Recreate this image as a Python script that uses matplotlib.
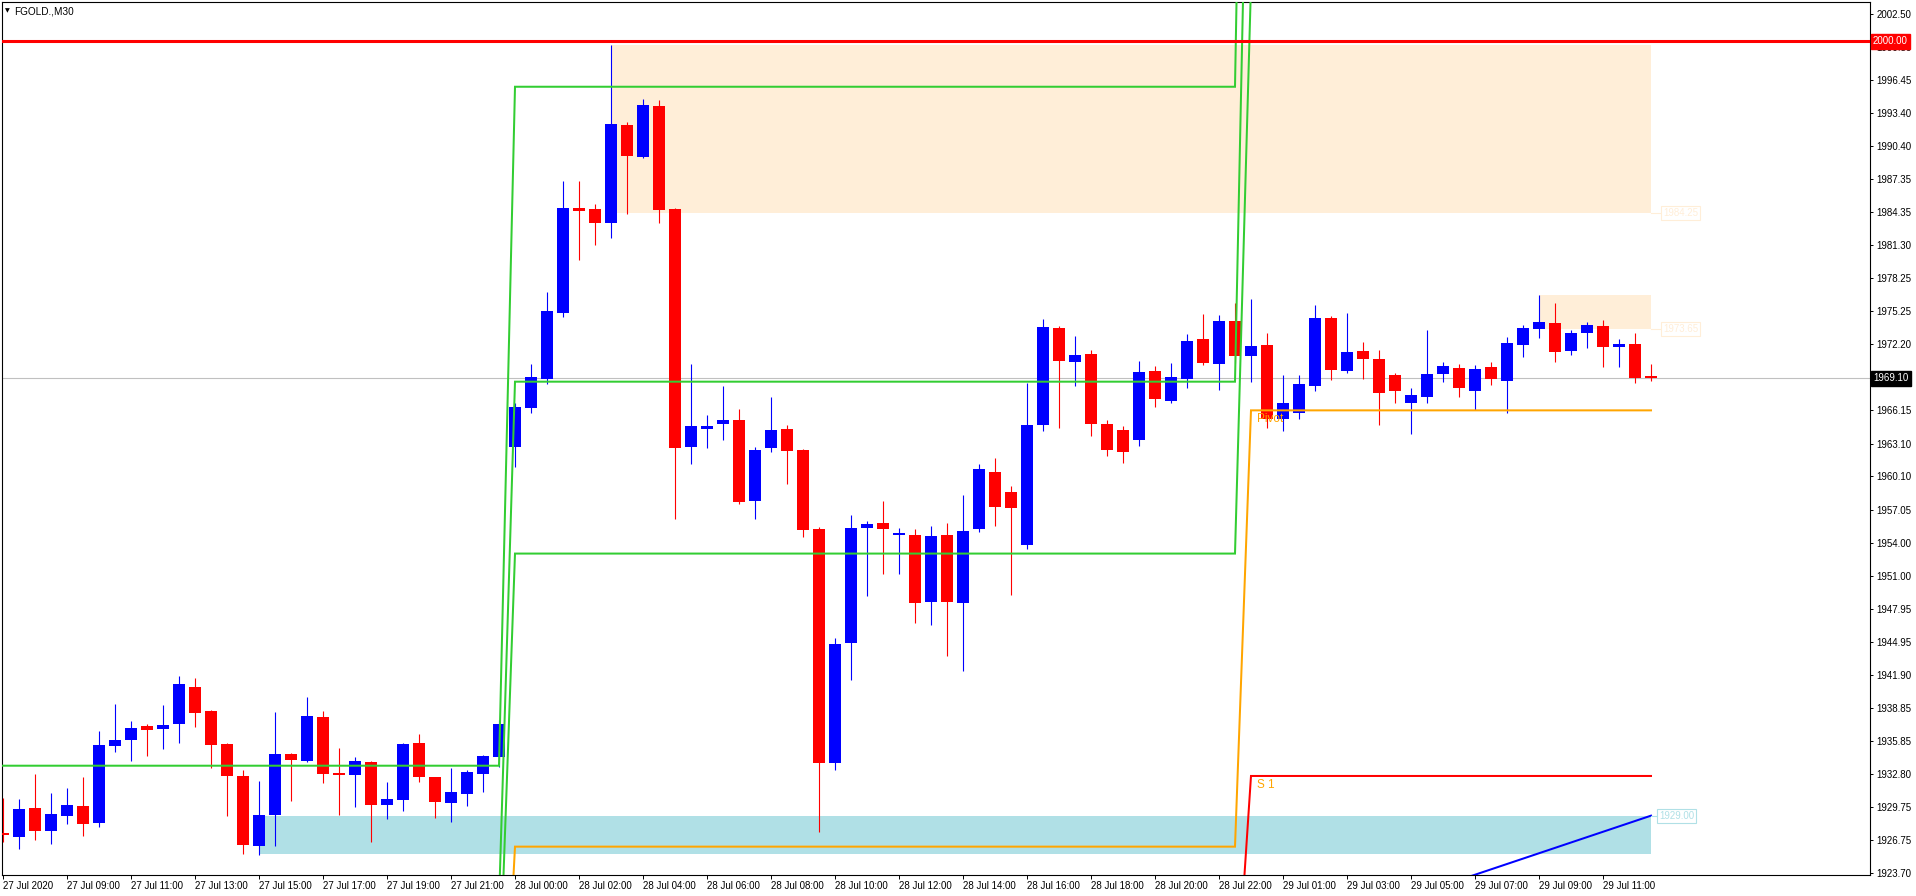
import numpy as np
import matplotlib
matplotlib.use("Agg")
import matplotlib.pyplot as plt
from matplotlib.patches import Rectangle
from matplotlib.transforms import blended_transform_factory

plt.rcParams['font.family'] = ['Liberation Sans', 'DejaVu Sans']

# FGOLD M30 candles, 27 Jul 07:00 -> 29 Jul 12:30
opens = [1927.44, 1927.07, 1929.71, 1927.62, 1929.00, 1929.89, 1928.36, 1935.42, 1935.97, 1937.22,
         1936.98, 1937.38, 1940.80, 1938.60, 1935.57, 1932.64, 1926.25, 1929.09, 1934.66, 1934.04,
         1938.05, 1932.85, 1932.76, 1933.92, 1930.01, 1930.47, 1935.64, 1932.52, 1930.19, 1931.02,
         1932.85, 1934.41, 1962.78, 1966.38, 1969.07, 1975.11, 1984.71, 1984.62, 1983.36, 1992.32,
         1989.41, 1994.06, 1984.62, 1962.78, 1964.47, 1964.92, 1965.25, 1957.85, 1962.67, 1964.45,
         1962.56, 1955.27, 1933.86, 1944.83, 1955.40, 1955.80, 1954.70, 1954.70, 1948.60, 1954.70,
         1948.50, 1955.30, 1960.54, 1958.63, 1953.81, 1964.80, 1973.71, 1970.62, 1971.33, 1964.92,
         1964.36, 1963.46, 1969.77, 1967.05, 1969.06, 1972.70, 1970.44, 1974.35, 1971.17, 1972.15,
         1965.37, 1965.90, 1968.42, 1974.63, 1969.80, 1971.60, 1970.87, 1969.40, 1966.80, 1967.40,
         1969.50, 1970.00, 1967.90, 1970.10, 1968.88, 1972.18, 1973.65, 1974.17, 1971.63, 1973.28,
         1973.89, 1972.00, 1972.24, 1969.31]
highs = [1930.65, 1930.53, 1932.85, 1931.08, 1931.54, 1932.55, 1936.76, 1939.24, 1937.68, 1937.41,
         1939.15, 1941.81, 1941.62, 1938.70, 1935.70, 1933.19, 1932.18, 1938.51, 1934.75, 1939.88,
         1938.60, 1935.18, 1934.35, 1934.01, 1932.09, 1935.69, 1936.49, 1932.57, 1933.40, 1933.19,
         1934.56, 1937.77, 1966.80, 1970.40, 1977.01, 1987.19, 1987.19, 1985.08, 1999.65, 1992.60,
         1994.70, 1994.61, 1984.70, 1970.41, 1965.70, 1968.40, 1966.26, 1962.80, 1967.38, 1964.80,
         1962.60, 1955.50, 1945.28, 1956.61, 1956.00, 1957.85, 1955.40, 1955.30, 1955.60, 1955.80,
         1958.41, 1961.20, 1961.78, 1959.19, 1968.63, 1974.53, 1973.90, 1972.98, 1971.69, 1965.30,
         1964.70, 1970.69, 1970.23, 1970.50, 1973.16, 1974.99, 1974.90, 1976.00, 1976.37, 1973.25,
         1969.40, 1969.40, 1975.82, 1974.81, 1975.09, 1972.43, 1971.69, 1969.58, 1968.20, 1973.50,
         1970.60, 1970.40, 1970.30, 1970.60, 1972.89, 1973.98, 1976.74, 1976.00, 1973.53, 1974.26,
         1974.44, 1972.70, 1973.25, 1970.41]
lows = [1926.62, 1925.97, 1926.80, 1926.43, 1928.27, 1927.17, 1927.99, 1934.87, 1934.04, 1934.50,
        1935.14, 1935.69, 1937.16, 1933.40, 1929.00, 1925.52, 1925.42, 1926.25, 1930.37, 1933.90,
        1932.03, 1929.09, 1929.83, 1926.62, 1928.73, 1929.46, 1932.12, 1928.82, 1928.45, 1929.92,
        1931.20, 1933.49, 1961.00, 1965.90, 1968.60, 1974.75, 1979.97, 1981.35, 1981.99, 1984.19,
        1989.30, 1983.36, 1956.17, 1961.21, 1962.67, 1963.46, 1957.62, 1956.17, 1962.34, 1959.42,
        1954.59, 1927.53, 1933.20, 1941.47, 1949.10, 1951.12, 1951.20, 1946.63, 1946.50, 1943.60,
        1942.25, 1955.00, 1955.60, 1949.21, 1953.48, 1964.30, 1964.58, 1968.42, 1963.79, 1962.00,
        1961.30, 1962.90, 1966.50, 1966.80, 1968.17, 1970.32, 1968.03, 1970.50, 1968.73, 1964.58,
        1964.30, 1965.40, 1967.90, 1968.97, 1969.61, 1969.06, 1964.80, 1966.80, 1964.00, 1966.80,
        1968.80, 1967.40, 1966.20, 1968.50, 1965.89, 1971.08, 1972.82, 1970.62, 1971.26, 1971.90,
        1970.16, 1970.16, 1968.70, 1968.88]
closes = [1927.20, 1929.61, 1927.62, 1929.16, 1929.98, 1928.27, 1935.48, 1935.94, 1937.04, 1936.88,
          1937.34, 1941.07, 1938.44, 1935.51, 1932.67, 1926.34, 1929.06, 1934.66, 1934.11, 1938.14,
          1932.85, 1932.76, 1933.99, 1930.01, 1930.53, 1935.60, 1932.57, 1930.28, 1931.17, 1933.01,
          1934.47, 1937.41, 1966.49, 1969.18, 1975.27, 1984.71, 1984.46, 1983.36, 1992.41, 1989.51,
          1994.15, 1984.56, 1962.71, 1964.69, 1964.69, 1965.25, 1957.73, 1962.56, 1964.36, 1962.45,
          1955.16, 1933.80, 1944.72, 1955.38, 1955.72, 1955.30, 1954.90, 1948.53, 1954.60, 1948.60,
          1955.10, 1960.77, 1957.29, 1957.18, 1964.80, 1973.80, 1970.71, 1971.23, 1964.92, 1962.56,
          1962.34, 1969.68, 1967.16, 1969.22, 1972.52, 1970.50, 1974.35, 1971.17, 1972.06, 1965.37,
          1966.80, 1968.58, 1974.63, 1969.89, 1971.51, 1970.90, 1967.72, 1967.90, 1967.60, 1969.50,
          1970.20, 1968.20, 1969.97, 1969.00, 1972.31, 1973.71, 1974.26, 1971.54, 1973.25, 1973.98,
          1972.00, 1972.24, 1969.15, 1969.10]

time_labels = ["27 Jul 2020", "27 Jul 09:00", "27 Jul 11:00", "27 Jul 13:00", "27 Jul 15:00",
               "27 Jul 17:00", "27 Jul 19:00", "27 Jul 21:00", "28 Jul 00:00", "28 Jul 02:00",
               "28 Jul 04:00", "28 Jul 06:00", "28 Jul 08:00", "28 Jul 10:00", "28 Jul 12:00",
               "28 Jul 14:00", "28 Jul 16:00", "28 Jul 18:00", "28 Jul 20:00", "28 Jul 22:00",
               "29 Jul 01:00", "29 Jul 03:00", "29 Jul 05:00", "29 Jul 07:00", "29 Jul 09:00",
               "29 Jul 11:00"]
price_ticks = [2002.50, 1999.50, 1996.45, 1993.40, 1990.40, 1987.35, 1984.35, 1981.30, 1978.25,
               1975.25, 1972.20, 1969.15, 1966.15, 1963.10, 1960.10, 1957.05, 1954.00, 1951.00,
               1947.95, 1944.95, 1941.90, 1938.85, 1935.85, 1932.80, 1929.75, 1926.75, 1923.70]

# daily pivot levels (first bar of each day)
day_start = [0, 32, 78]
pivot_lvl = [1898.0, 1926.16, 1966.16]
r1_lvl = [1912.0, 1953.03, 2005.2]
r2_lvl = [1921.0, 1968.79, 2038.7]
r3_lvl = [1933.58, 1995.83, 2077.9]
s1_lvl = [1880.0, 1910.4, 1932.64]

# zones: (first bar, low, high)
supply_zones = [(38, 1984.25, 1999.65), (96, 1973.65, 1976.74)]
demand_zone = (16, 1925.49, 1929.00)
zone_end = 103
trend_x = [90, 103]
trend_y = [1922.6, 1929.0]
last_price = 1969.10
round_level = 2000.00

W, H = 1916, 896
fig = plt.figure(figsize=(W / 100, H / 100), dpi=100)
fig.patch.set_facecolor('white')
ax = fig.add_axes([2 / W, 21 / H, 1868 / W, 873 / H])
ax.set_xlim(-0.0625, 116.6875)
ax.set_ylim(1923.56, 2003.60)

PEACH = '#FFEED8'
LBLUE = '#B0E0E6'
ORANGE = '#FFA500'
GREEN = '#32CD32'
FS = 7.0

n = len(opens)
idx = np.arange(n)
o = np.array(opens); c = np.array(closes); hi = np.array(highs); lo = np.array(lows)

# zones (background)
for start, zlo, zhi in supply_zones:
    ax.add_patch(Rectangle((start, zlo), zone_end - start, zhi - zlo, fc=PEACH, ec='none', zorder=1))
ax.add_patch(Rectangle((demand_zone[0], demand_zone[1]), zone_end - demand_zone[0],
                       demand_zone[2] - demand_zone[1], fc=LBLUE, ec='none', zorder=1))

ax.axhline(last_price, color='#C0C0C0', lw=0.8, zorder=1.5)

# candles
col = np.where(c >= o, '#0000FF', '#FF0000')
ax.vlines(idx, lo, hi, colors=col, lw=0.8, zorder=3)
ax.bar(idx, np.maximum(np.abs(c - o), 0.12), bottom=np.minimum(o, c), width=0.69,
       color=col, lw=0, zorder=3)

# pivot labels
ax.text(day_start[2] + 0.35, pivot_lvl[2] - 0.2, 'Pivot', color=ORANGE, fontsize=8.5,
        va='top', ha='left', zorder=3.5)
ax.text(day_start[2] + 0.35, s1_lvl[2] - 0.25, 'S 1', color=ORANGE, fontsize=8.5,
        va='top', ha='left', zorder=3.5)

# pivot lines per bar
day_of_bar = np.searchsorted(day_start, idx, side='right') - 1
for lvl, color in [(r1_lvl, GREEN), (r2_lvl, GREEN), (r3_lvl, GREEN),
                   (pivot_lvl, ORANGE), (s1_lvl, '#FF0000')]:
    ax.plot(idx, np.array(lvl)[day_of_bar], color=color, lw=1.45, zorder=4,
            solid_joinstyle='miter')

ax.plot(trend_x, trend_y, color='#0000FF', lw=1.45, zorder=4)
ax.axhline(round_level, color='#FF0000', lw=2.2, zorder=5)

# zone price labels
for start, zlo, zhi in supply_zones:
    ax.plot([zone_end, zone_end + 0.7], [zlo, zlo], color=PEACH, lw=0.8, zorder=4)
    ax.text(zone_end + 0.75, zlo, f'{zlo:.2f}', color=PEACH, fontsize=FS, va='center', ha='left',
            bbox=dict(boxstyle='square,pad=0.2', fc='white', ec=PEACH, lw=0.8), zorder=5)
ax.plot([zone_end, zone_end + 0.45], [demand_zone[2]] * 2, color=LBLUE, lw=0.8, zorder=4)
ax.text(zone_end + 0.5, demand_zone[2], f'{demand_zone[2]:.2f}', color=LBLUE, fontsize=FS,
        va='center', ha='left', bbox=dict(boxstyle='square,pad=0.2', fc='white', ec=LBLUE, lw=0.8),
        zorder=5)

# axes styling
for sp in ax.spines.values():
    sp.set_color('black')
    sp.set_linewidth(0.8)
ax.yaxis.tick_right()
ax.set_yticks(price_ticks)
ax.set_yticklabels([f'{p:.2f}' for p in price_ticks])
ax.tick_params(axis='y', right=True, left=False, length=2.5, width=0.7, labelsize=FS, pad=2,
               colors='black')
ax.set_xticks(np.arange(0, n, 4))
ax.set_xticklabels(time_labels, ha='left')
ax.tick_params(axis='x', length=3, width=0.7, labelsize=FS, pad=1.5)

# axis price boxes
tr = blended_transform_factory(ax.transAxes, ax.transData)
ax.text(1.0 + 3 / 1868, last_price, f'{last_price:.2f}', transform=tr, color='white', fontsize=FS,
        va='center', ha='left', clip_on=False, zorder=10,
        bbox=dict(boxstyle='square,pad=0.25', fc='black', ec='black'))
ax.text(1.0 + 3 / 1868, round_level, f'{round_level:.2f}', transform=tr, color='white', fontsize=FS,
        va='center', ha='left', clip_on=False, zorder=10,
        bbox=dict(boxstyle='square,pad=0.25', fc='#FF0000', ec='#FF0000'))

fig.text(5 / W, 1 - 11 / H, '\u25BC', fontsize=4.5, family='DejaVu Sans', va='center', ha='left')
fig.text(14 / W, 1 - 11 / H, 'FGOLD.,M30', fontsize=7.2, va='center', ha='left')

fig.savefig('out.png', dpi=100, facecolor='white')
